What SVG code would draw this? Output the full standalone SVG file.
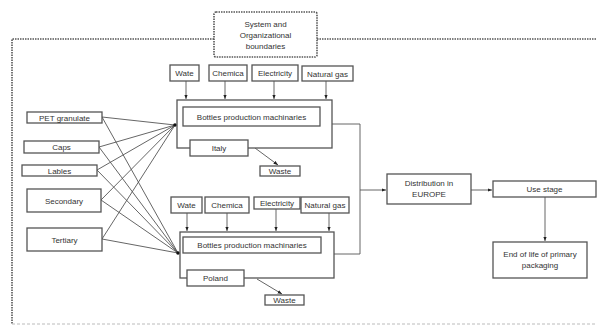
<svg xmlns="http://www.w3.org/2000/svg" width="597" height="327" viewBox="0 0 597 327">
<defs>
<marker id="ah" viewBox="0 0 10 10" refX="10" refY="5" markerWidth="5" markerHeight="5" orient="auto"><path d="M0,1 L10,5 L0,9 z" fill="#222"/></marker>
<style>
.b{fill:#fff;stroke:#555;stroke-width:1.3}
.t{font-family:"Liberation Sans",Arial,sans-serif;font-size:8px;fill:#333;text-anchor:middle}
.c{fill:none;stroke:#555;stroke-width:0.9}
.d{fill:none;stroke:#555;stroke-width:1.6;stroke-dasharray:1.5 1}
</style>
</defs>
<rect width="597" height="327" fill="#fff"/>
<g id="boundary">
<path class="d" d="M214,39 L12,39 L12,324"/>
<path class="d" d="M317,39 L597,39"/>
<path d="M12,324 L597,324" stroke="#bbb" stroke-width="1.2" stroke-dasharray="3 2" fill="none"/>
</g>
<g id="title"><rect class="d" x="214" y="12" width="103" height="45" rx="2" fill="#fff"/><text class="t" x="265.5" y="27">System and</text><text class="t" x="265.5" y="38">Organizational</text><text class="t" x="265.5" y="49">boundaries</text></g>
<g id="connectors">
<g class="c">
<path d="M102,117 L175,125 M99,147 L175,125 M97,170 L175,125 M101,200 L175,125 M102,239 L175,125"/>
<path d="M102,117 L178,253 M99,147 L178,253 M97,170 L178,253 M101,200 L178,253 M102,239 L178,253"/>
</g>
<path class="c" d="M186,81 V99" marker-end="url(#ah)"/>
<path class="c" d="M225,81 V99" marker-end="url(#ah)"/>
<path class="c" d="M274,81 V99" marker-end="url(#ah)"/>
<path class="c" d="M326,81 V99" marker-end="url(#ah)"/>
<path class="c" d="M187,213 V231" marker-end="url(#ah)"/>
<path class="c" d="M227,213 V231" marker-end="url(#ah)"/>
<path class="c" d="M276,209 V231" marker-end="url(#ah)"/>
<path class="c" d="M329,213 V231" marker-end="url(#ah)"/>
<path class="c" d="M255,148 L278,165" marker-end="url(#ah)"/>
<path class="c" d="M257,279 L282,294" marker-end="url(#ah)"/>
<path class="c" d="M332,124 H360 V254 H334"/>
<path class="c" d="M360,190 H386" marker-end="url(#ah)"/>
<path class="c" d="M471,190 H492" marker-end="url(#ah)"/>
<path class="c" d="M545,197 V241" marker-end="url(#ah)"/>
<circle cx="175" cy="125" r="1.8" fill="#111"/>
<circle cx="178" cy="253" r="1.8" fill="#111"/>
</g>
<g id="pet"><rect class="b" x="27" y="112" width="75" height="11"/><text class="t" x="64.5" y="120.5">PET granulate</text></g>
<g id="caps"><rect class="b" x="24" y="141" width="75" height="12"/><text class="t" x="61.5" y="150">Caps</text></g>
<g id="lables"><rect class="b" x="22" y="165" width="75" height="11"/><text class="t" x="59.5" y="173.5">Lables</text></g>
<g id="secondary"><rect class="b" x="27" y="189" width="74" height="23"/><text class="t" x="64" y="203.5">Secondary</text></g>
<g id="tertiary"><rect class="b" x="27" y="228" width="75" height="23"/><text class="t" x="64.5" y="242.5">Tertiary</text></g>
<g id="wate1"><rect class="b" x="170" y="65" width="29" height="16"/><text class="t" x="184.5" y="76">Wate</text></g>
<g id="chem1"><rect class="b" x="209" y="65" width="38" height="16"/><text class="t" x="228" y="76">Chemica</text></g>
<g id="elec1"><rect class="b" x="252" y="65" width="46" height="16"/><text class="t" x="275" y="76">Electricity</text></g>
<g id="gas1"><rect class="b" x="302" y="66" width="51" height="15"/><text class="t" x="327.5" y="76.5">Natural gas</text></g>
<g id="plant1"><rect class="b" x="177" y="100" width="155" height="48"/></g>
<g id="bottles1"><rect class="b" x="183" y="107" width="137" height="19"/><text class="t" x="251.5" y="119.5">Bottles production machinaries</text></g>
<g id="italy"><rect class="b" x="190" y="140" width="58" height="16"/><text class="t" x="219" y="151">Italy</text></g>
<g id="waste1"><rect class="b" x="260" y="166" width="40" height="10"/><text class="t" x="280" y="174">Waste</text></g>
<g id="wate2"><rect class="b" x="171" y="197" width="31" height="16"/><text class="t" x="186.5" y="208">Wate</text></g>
<g id="chem2"><rect class="b" x="205" y="197" width="44" height="16"/><text class="t" x="227" y="208">Chemica</text></g>
<g id="elec2"><rect class="b" x="254" y="197" width="46" height="12"/><text class="t" x="277" y="206">Electricity</text></g>
<g id="gas2"><rect class="b" x="301" y="197" width="48" height="16"/><text class="t" x="325" y="208">Natural gas</text></g>
<g id="plant2"><rect class="b" x="180" y="232" width="154" height="46"/></g>
<g id="bottles2"><rect class="b" x="183" y="237" width="138" height="16"/><text class="t" x="252" y="248">Bottles production machinaries</text></g>
<g id="poland"><rect class="b" x="187" y="270" width="57" height="16"/><text class="t" x="215.5" y="281">Poland</text></g>
<g id="waste2"><rect class="b" x="265" y="295" width="39" height="10"/><text class="t" x="284.5" y="303">Waste</text></g>
<g id="distribution"><rect class="b" x="387" y="174" width="84" height="30"/><text class="t" x="429" y="186">Distribution in</text><text class="t" x="429" y="197">EUROPE</text></g>
<g id="use"><rect class="b" x="493" y="181" width="103" height="16"/><text class="t" x="544.5" y="192">Use stage</text></g>
<g id="eol"><rect class="b" x="493" y="242" width="94" height="36"/><text class="t" x="540" y="257">End of life of primary</text><text class="t" x="540" y="268">packaging</text></g>
</svg>
